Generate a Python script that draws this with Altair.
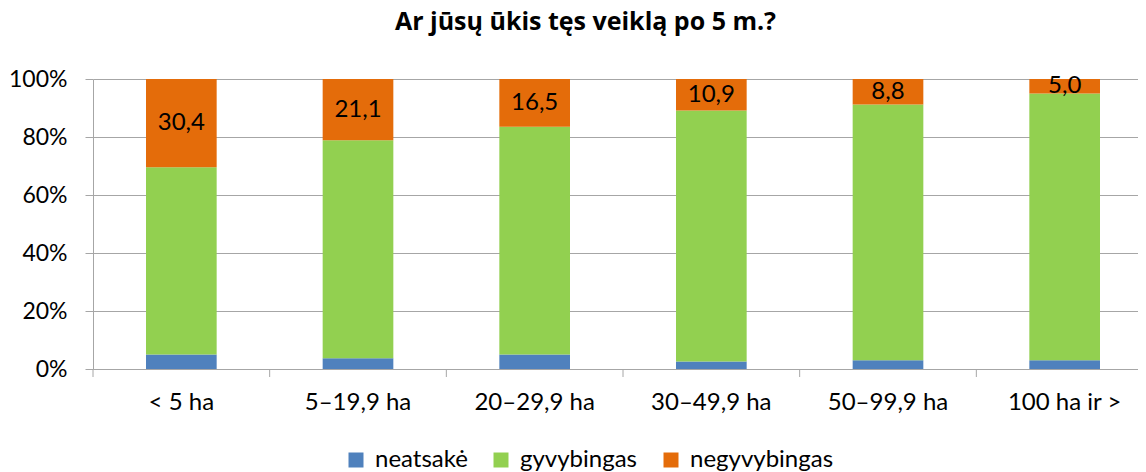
import altair as alt
import pandas as pd

categories = ["< 5 ha", "5–19,9 ha", "20–29,9 ha", "30–49,9 ha", "50–99,9 ha", "100 ha ir >"]
series = ["neatsakė", "gyvybingas", "negyvybingas"]
neatsake = [5.0, 3.7, 5.0, 2.6, 3.0, 3.0]
gyvybingas = [64.6, 75.2, 78.5, 86.5, 88.2, 92.0]
negyvybingas = [30.4, 21.1, 16.5, 10.9, 8.8, 5.0]
colors = ["#4F81BD", "#92D050", "#E46C0A"]

FONT = "Lato"

rows = []
for i, c in enumerate(categories):
    for k, (s, vals) in enumerate(zip(series, [neatsake, gyvybingas, negyvybingas])):
        rows.append({"cat": c, "series": s, "value": vals[i], "ord": k})
df = pd.DataFrame(rows)

lab = pd.DataFrame({
    "cat": categories,
    "mid": [a + b + o / 2 for a, b, o in zip(neatsake, gyvybingas, negyvybingas)],
    "label": [f"{o:.1f}".replace(".", ",") for o in negyvybingas],
})

xscale = alt.Scale(paddingInner=0, paddingOuter=0, range=[0, 1060])

bars = alt.Chart(df).mark_bar(width=alt.RelativeBandSize(0.4)).encode(
    x=alt.X("cat:N", sort=categories, scale=xscale,
            axis=alt.Axis(title=None, labelAngle=0, ticks=False, domainColor="#a6a6a6",
                          labelFont=FONT, labelFontSize=24, labelColor="#000000",
                          labelPadding=21)),
    y=alt.Y("value:Q", stack="zero",
            scale=alt.Scale(domain=[0, 100], nice=False),
            axis=alt.Axis(title=None, values=[0, 20, 40, 60, 80, 100],
                          labelExpr="datum.value + '%'", tickSize=8, tickColor="#a6a6a6",
                          domainColor="#a6a6a6", gridColor="#a6a6a6", grid=True,
                          labelFont=FONT, labelFontSize=23, labelColor="#000000",
                          labelPadding=18)),
    color=alt.Color("series:N", sort=series,
                    scale=alt.Scale(domain=series, range=colors),
                    legend=alt.Legend(title=None, orient="none", direction="horizontal",
                                      legendX=251, legendY=369, symbolType="square",
                                      symbolSize=225, symbolStrokeWidth=0,
                                      labelFont=FONT, labelFontSize=24, labelColor="#000000",
                                      labelOffset=7, columnPadding=21)),
    order=alt.Order("ord:Q"),
)

texts = alt.Chart(lab).mark_text(font=FONT, fontSize=24, color="#000000", baseline="middle").encode(
    x=alt.X("cat:N", sort=categories, scale=xscale),
    y=alt.Y("mid:Q"),
    text="label:N",
)

ticks = alt.Chart(lab).mark_rule(color="#a6a6a6", strokeWidth=1).encode(
    x=alt.X("cat:N", sort=categories, scale=xscale, bandPosition=0),
    y=alt.value(290),
    y2=alt.value(298),
)

chart = alt.layer(bars, texts, ticks).properties(
    width=1045, height=290,
    autosize=alt.AutoSizeParams(type="none"),
    padding={"left": 85, "top": 71, "right": 0, "bottom": 103},
    title=alt.TitleParams("Ar jūsų ūkis tęs veiklą po 5 m.?", font="Open Sans", fontSize=25,
                          fontWeight="bold", color="#000000", anchor="middle",
                          baseline="alphabetic", offset=13, dx=-30),
).configure_view(stroke=None)

chart.save("out.html", embed_options={"renderer": "svg", "actions": False})
